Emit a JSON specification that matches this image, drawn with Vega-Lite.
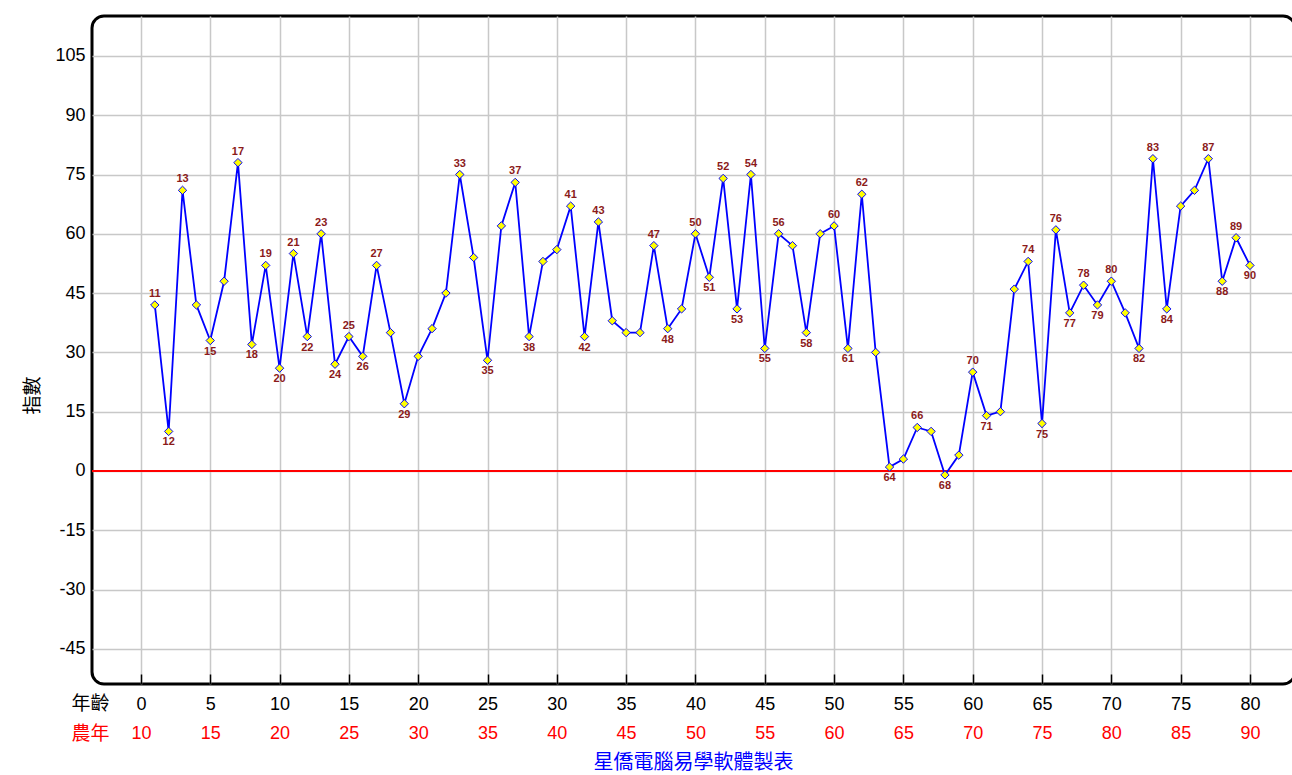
{
  "$schema": "https://vega.github.io/schema/vega-lite/v6.json",
  "width": 1203,
  "height": 668,
  "autosize": {"type": "none"},
  "padding": {"left": 92, "top": 16, "right": 0, "bottom": 91},
  "background": "white",
  "config": {
    "view": {"stroke": "black", "strokeWidth": 3, "cornerRadius": 12, "fill": "white"}
  },
  "title": {"text": "星僑電腦易學軟體製表", "orient": "bottom", "anchor": "middle", "color": "#0000ff", "font": "Noto Sans CJK TC", "fontSize": 20, "fontWeight": "normal", "offset": 10, "baseline": "top"},
  "data": {"values": [
    {"age":1,"v":42,"yr":11,"ext":"p"},{"age":2,"v":10,"yr":12,"ext":"t"},{"age":3,"v":71,"yr":13,"ext":"p"},{"age":4,"v":42,"yr":14,"ext":"n"},
    {"age":5,"v":33,"yr":15,"ext":"t"},{"age":6,"v":48,"yr":16,"ext":"n"},{"age":7,"v":78,"yr":17,"ext":"p"},{"age":8,"v":32,"yr":18,"ext":"t"},
    {"age":9,"v":52,"yr":19,"ext":"p"},{"age":10,"v":26,"yr":20,"ext":"t"},{"age":11,"v":55,"yr":21,"ext":"p"},{"age":12,"v":34,"yr":22,"ext":"t"},
    {"age":13,"v":60,"yr":23,"ext":"p"},{"age":14,"v":27,"yr":24,"ext":"t"},{"age":15,"v":34,"yr":25,"ext":"p"},{"age":16,"v":29,"yr":26,"ext":"t"},
    {"age":17,"v":52,"yr":27,"ext":"p"},{"age":18,"v":35,"yr":28,"ext":"n"},{"age":19,"v":17,"yr":29,"ext":"t"},{"age":20,"v":29,"yr":30,"ext":"n"},
    {"age":21,"v":36,"yr":31,"ext":"n"},{"age":22,"v":45,"yr":32,"ext":"n"},{"age":23,"v":75,"yr":33,"ext":"p"},{"age":24,"v":54,"yr":34,"ext":"n"},
    {"age":25,"v":28,"yr":35,"ext":"t"},{"age":26,"v":62,"yr":36,"ext":"n"},{"age":27,"v":73,"yr":37,"ext":"p"},{"age":28,"v":34,"yr":38,"ext":"t"},
    {"age":29,"v":53,"yr":39,"ext":"n"},{"age":30,"v":56,"yr":40,"ext":"n"},{"age":31,"v":67,"yr":41,"ext":"p"},{"age":32,"v":34,"yr":42,"ext":"t"},
    {"age":33,"v":63,"yr":43,"ext":"p"},{"age":34,"v":38,"yr":44,"ext":"n"},{"age":35,"v":35,"yr":45,"ext":"n"},{"age":36,"v":35,"yr":46,"ext":"n"},
    {"age":37,"v":57,"yr":47,"ext":"p"},{"age":38,"v":36,"yr":48,"ext":"t"},{"age":39,"v":41,"yr":49,"ext":"n"},{"age":40,"v":60,"yr":50,"ext":"p"},
    {"age":41,"v":49,"yr":51,"ext":"t"},{"age":42,"v":74,"yr":52,"ext":"p"},{"age":43,"v":41,"yr":53,"ext":"t"},{"age":44,"v":75,"yr":54,"ext":"p"},
    {"age":45,"v":31,"yr":55,"ext":"t"},{"age":46,"v":60,"yr":56,"ext":"p"},{"age":47,"v":57,"yr":57,"ext":"n"},{"age":48,"v":35,"yr":58,"ext":"t"},
    {"age":49,"v":60,"yr":59,"ext":"n"},{"age":50,"v":62,"yr":60,"ext":"p"},{"age":51,"v":31,"yr":61,"ext":"t"},{"age":52,"v":70,"yr":62,"ext":"p"},
    {"age":53,"v":30,"yr":63,"ext":"n"},{"age":54,"v":1,"yr":64,"ext":"t"},{"age":55,"v":3,"yr":65,"ext":"n"},{"age":56,"v":11,"yr":66,"ext":"p"},
    {"age":57,"v":10,"yr":67,"ext":"n"},{"age":58,"v":-1,"yr":68,"ext":"t"},{"age":59,"v":4,"yr":69,"ext":"n"},{"age":60,"v":25,"yr":70,"ext":"p"},
    {"age":61,"v":14,"yr":71,"ext":"t"},{"age":62,"v":15,"yr":72,"ext":"n"},{"age":63,"v":46,"yr":73,"ext":"n"},{"age":64,"v":53,"yr":74,"ext":"p"},
    {"age":65,"v":12,"yr":75,"ext":"t"},{"age":66,"v":61,"yr":76,"ext":"p"},{"age":67,"v":40,"yr":77,"ext":"t"},{"age":68,"v":47,"yr":78,"ext":"p"},
    {"age":69,"v":42,"yr":79,"ext":"t"},{"age":70,"v":48,"yr":80,"ext":"p"},{"age":71,"v":40,"yr":81,"ext":"n"},{"age":72,"v":31,"yr":82,"ext":"t"},
    {"age":73,"v":79,"yr":83,"ext":"p"},{"age":74,"v":41,"yr":84,"ext":"t"},{"age":75,"v":67,"yr":85,"ext":"n"},{"age":76,"v":71,"yr":86,"ext":"n"},
    {"age":77,"v":79,"yr":87,"ext":"p"},{"age":78,"v":48,"yr":88,"ext":"t"},{"age":79,"v":59,"yr":89,"ext":"p"},{"age":80,"v":52,"yr":90,"ext":"t"}
  ]},
  "encoding": {
    "y": {"field": "v", "type": "quantitative",
      "scale": {"domain": [-53.9, 115.1], "nice": false, "zero": false},
      "axis": {"values": [-45,-30,-15,0,15,30,45,60,75,90,105], "labelExpr": "'' + datum.value", "grid": true, "gridColor": "#c8c8c8", "gridWidth": 1.5,
        "domain": false, "ticks": false, "labelPadding": 7, "labelFont": "Liberation Sans", "labelFontSize": 18, "labelColor": "black",
        "title": "指數", "titleFont": "Noto Sans CJK TC", "titleFontSize": 19, "titleFontWeight": "normal", "titleColor": "black",
        "titleAngle": -90, "titleX": -60, "titleY": 379, "titleAlign": "center", "titleBaseline": "middle"}}
  },
  "layer": [
    {
      "mark": {"type": "rule", "color": "#ff0000", "strokeWidth": 1.5},
      "encoding": {"y": {"datum": 0}}
    },
    {
      "mark": {"type": "line", "color": "#0000ff", "strokeWidth": 1.8},
      "encoding": {
        "x": {"field": "age", "type": "quantitative", "scale": {"domain": [-3.53, 83.25], "nice": false, "zero": false},
          "axis": {"orient": "bottom", "values": [0,5,10,15,20,25,30,35,40,45,50,55,60,65,70,75,80], "grid": true, "gridColor": "#c8c8c8", "gridWidth": 1.5,
            "domain": false, "ticks": true, "tickSize": -10, "tickColor": "black", "tickWidth": 1.5,
            "labelFont": "Liberation Sans", "labelFontSize": 18, "labelColor": "black", "labelBaseline": "top", "labelPadding": 21,
            "title": "年齡", "titleFont": "Noto Sans CJK TC", "titleFontSize": 19, "titleFontWeight": "normal", "titleColor": "black",
            "titleAngle": 0, "titleX": -2, "titleY": 19, "titleAlign": "center", "titleBaseline": "middle"}}
      }
    },
    {
      "mark": {"type": "point", "shape": "diamond", "filled": true, "fill": "#ffff00", "stroke": "#0000ff", "strokeWidth": 1, "size": 70, "opacity": 1},
      "encoding": {
        "x": {"field": "age", "type": "quantitative", "scale": {"domain": [-3.53, 83.25], "nice": false, "zero": false},
          "axis": {"orient": "bottom", "values": [0,5,10,15,20,25,30,35,40,45,50,55,60,65,70,75,80], "grid": false,
            "domain": false, "ticks": false, "labelExpr": "datum.value + 10",
            "labelFont": "Liberation Sans", "labelFontSize": 18, "labelColor": "#ff0000", "labelBaseline": "top", "labelPadding": 40,
            "title": "農年", "titleFont": "Noto Sans CJK TC", "titleFontSize": 19, "titleFontWeight": "normal", "titleColor": "#ff0000",
            "titleAngle": 0, "titleX": -2, "titleY": 49, "titleAlign": "center", "titleBaseline": "middle"}}
      }
    },
    {
      "transform": [{"filter": "datum.ext == 'p'"}],
      "mark": {"type": "text", "dy": -11, "font": "Liberation Sans", "fontSize": 11, "fontWeight": "bold", "color": "#8b1a1a"},
      "encoding": {
        "x": {"field": "age", "type": "quantitative", "axis": null},
        "text": {"field": "yr", "type": "nominal"}
      }
    },
    {
      "transform": [{"filter": "datum.ext == 't'"}],
      "mark": {"type": "text", "dy": 11, "font": "Liberation Sans", "fontSize": 11, "fontWeight": "bold", "color": "#8b1a1a"},
      "encoding": {
        "x": {"field": "age", "type": "quantitative", "axis": null},
        "text": {"field": "yr", "type": "nominal"}
      }
    }
  ],
  "resolve": {"axis": {"x": "independent"}}
}
